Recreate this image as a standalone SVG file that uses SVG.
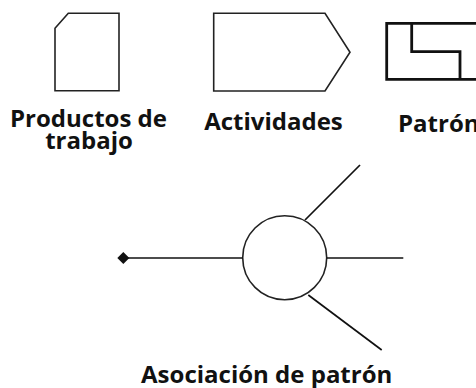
<svg xmlns="http://www.w3.org/2000/svg" width="476" height="388" viewBox="0 0 476 388">
<style>
.shape{fill:#fff;stroke:#222;stroke-width:1.6;stroke-linejoin:miter}
.thick{fill:none;stroke:#111;stroke-width:2.8}
.line{fill:none;stroke:#111;stroke-width:1.7}
.lbl{font-family:"Open Sans","DejaVu Sans",sans-serif;font-weight:bold;font-size:24px;fill:#111}
</style>
<rect width="476" height="388" fill="#fff"/>
<g id="productos">
<path class="shape" d="M55,28.3 L68.3,13.3 L119,13.3 L119,90.7 L55,90.7 Z"/>
<text class="lbl" x="88.5" y="126.5" text-anchor="middle">Productos de</text>
<text class="lbl" x="89" y="148.5" text-anchor="middle">trabajo</text>
</g>
<g id="actividades">
<path class="shape" d="M213.7,13.3 L325,13.3 L350,52.3 L325,91 L213.7,91 Z"/>
<text class="lbl" x="273.5" y="130" text-anchor="middle">Actividades</text>
</g>
<g id="patron">
<path class="thick" d="M480,23.3 L386.7,23.3 L386.7,79.3 L480,79.3"/>
<path class="thick" d="M411.7,23.3 L411.7,51.7 L460,51.7 L460,79.3"/>
<text class="lbl" x="398" y="132">Patrón</text>
</g>
<g id="asociacion">
<circle class="shape" cx="284.7" cy="257.7" r="42" stroke-width="2"/>
<text class="lbl" x="266.7" y="383" text-anchor="middle">Asociación de patrón</text>
</g>
<g id="connectors">
<line class="line" x1="123.3" y1="258" x2="242.7" y2="258"/>
<path d="M117.3,258 L123.3,252 L129.3,258 L123.3,264 Z" fill="#111"/>
<line class="line" x1="326.7" y1="258" x2="403.3" y2="258"/>
<line class="line" x1="305" y1="220" x2="360" y2="165"/>
<line class="line" x1="308.3" y1="295" x2="381.7" y2="350"/>
</g>
</svg>
